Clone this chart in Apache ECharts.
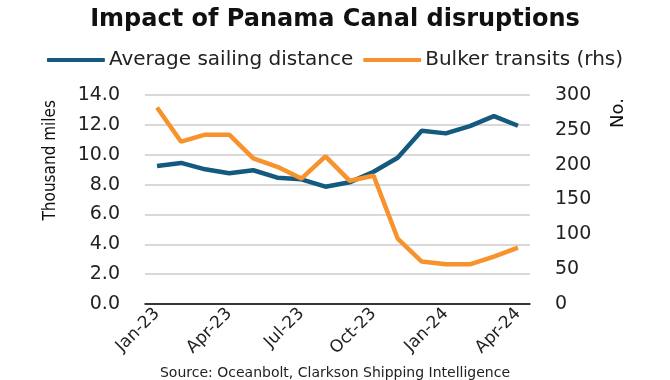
<!DOCTYPE html>
<html><head><meta charset="utf-8">
<script src="https://cdn.jsdelivr.net/npm/echarts@6/dist/echarts.min.js"></script>
<style>html,body{margin:0;padding:0;background:#fff}#c{width:670px;height:380px}</style>
</head><body><div id="c"></div>
<script>
const categories = ['Jan-23','Feb-23','Mar-23','Apr-23','May-23','Jun-23','Jul-23','Aug-23','Sep-23','Oct-23','Nov-23','Dec-23','Jan-24','Feb-24','Mar-24','Apr-24'];
const sailingDistance = [9.24, 9.45, 9.02, 8.76, 8.96, 8.46, 8.35, 7.86, 8.15, 8.86, 9.80, 11.60, 11.43, 11.92, 12.59, 11.94];
const bulkerTransits = [282, 233, 243, 243, 209, 197, 180, 212, 177, 184, 94, 61, 57, 57, 68, 81];
const leftTicks = [0, 2, 4, 6, 8, 10, 12, 14];
const rightTicks = [0, 50, 100, 150, 200, 250, 300];

const FONT = 'DejaVu Sans';
const chart = echarts.init(document.getElementById('c'));
chart.setOption({
  animation: false,
  title: {
    text: 'Impact of Panama Canal disruptions',
    left: 'center', top: 3,
    textStyle: {fontFamily: FONT, fontWeight: 'bold', fontSize: 24, color: '#111'}
  },
  legend: {
    top: 45, left: 'center', itemWidth: 58, itemHeight: 4, itemGap: 10,
    icon: 'roundRect',
    textStyle: {fontFamily: FONT, fontSize: 20, color: '#222', padding: [0, 0, 0, -1]},
    data: ['Average sailing distance', 'Bulker transits (rhs)']
  },
  grid: {left: 145, right: 140, top: 95, bottom: 76},
  xAxis: {
    type: 'category', data: categories, boundaryGap: true,
    axisLine: {lineStyle: {color: '#000', width: 1.5}},
    axisTick: {interval: 2, length: 5, lineStyle: {color: '#000', width: 1.5}},
    axisLabel: {interval: 2, rotate: 45, fontFamily: FONT, fontSize: 17, color: '#222', margin: 7}
  },
  yAxis: [{
    type: 'value', min: leftTicks[0], max: leftTicks[leftTicks.length-1], interval: 2,
    axisLine: {show: false}, axisTick: {show: false},
    splitLine: {lineStyle: {color: '#cccccc', width: 1.5}},
    axisLabel: {formatter: v => v.toFixed(1), fontFamily: FONT, fontSize: 19, color: '#222', margin: 25}
  }, {
    type: 'value', min: rightTicks[0], max: rightTicks[rightTicks.length-1], interval: 50,
    axisLine: {show: false}, axisTick: {show: false}, splitLine: {show: false},
    axisLabel: {fontFamily: FONT, fontSize: 19, color: '#222', margin: 25}
  }],
  graphic: [
    {type: 'text', left: 42, top: 100, rotation: Math.PI/2, style: {text: 'Thousand miles', font: '17px "DejaVu Sans Condensed", "DejaVu Sans", sans-serif', fill: '#111'}},
    {type: 'text', left: 609, top: 98, rotation: Math.PI/2, style: {text: 'No.', font: '18px "DejaVu Sans"', fill: '#111'}},
    {type: 'text', left: 'center', top: 366, style: {text: 'Source: Oceanbolt, Clarkson Shipping Intelligence', font: '14px "DejaVu Sans"', fill: '#222'}}
  ],
  series: [{
    name: 'Average sailing distance', type: 'line', yAxisIndex: 0, data: sailingDistance,
    symbol: 'none', lineStyle: {color: '#135a7e', width: 4.5}, itemStyle: {color: '#135a7e'}
  }, {
    name: 'Bulker transits (rhs)', type: 'line', yAxisIndex: 1, data: bulkerTransits,
    symbol: 'none', lineStyle: {color: '#f7922d', width: 4.5}, itemStyle: {color: '#f7922d'}
  }]
});
</script></body></html>
